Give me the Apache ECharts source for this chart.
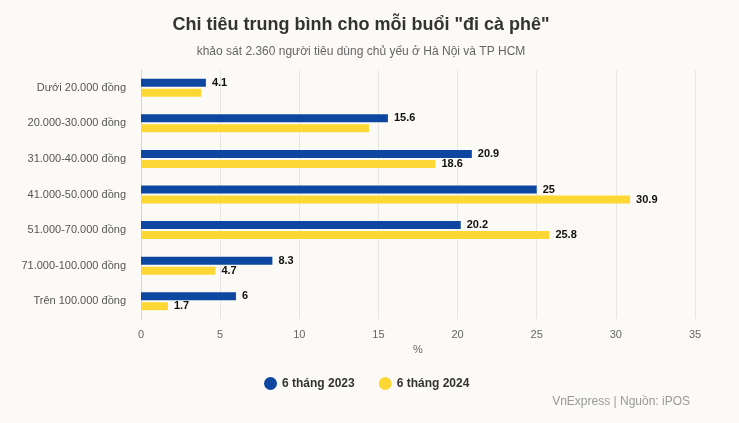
<!DOCTYPE html>
<html><head><meta charset="utf-8">
<script src="https://cdn.jsdelivr.net/npm/echarts@6/dist/echarts.min.js"></script>
<style>html,body{margin:0;padding:0;background:#fbfaf7}#c{width:739px;height:423px}</style>
</head><body><div id="c"></div>
<script>
const categories = ["Dưới 20.000 đồng","20.000-30.000 đồng","31.000-40.000 đồng","41.000-50.000 đồng","51.000-70.000 đồng","71.000-100.000 đồng","Trên 100.000 đồng"];
const values2023 = [4.1, 15.6, 20.9, 25, 20.2, 8.3, 6];
const values2024 = [3.8, 14.4, 18.6, 30.9, 25.8, 4.7, 1.7];
const labelled2024 = [false, false, true, true, true, true, true];
const seriesNames = ["6 tháng 2023", "6 tháng 2024"];
const xTicks = {min: 0, max: 35, interval: 5};

const font = "'Liberation Sans', Arial, sans-serif";
const chart = echarts.init(document.getElementById('c'));
const lbl = {show: true, position: 'right', color: '#111', fontWeight: 'bold', fontSize: 11, fontFamily: font, distance: 6};
chart.setOption({
  backgroundColor: '#fbfaf7',
  animation: false,
  title: [{
    text: 'Chi tiêu trung bình cho mỗi buổi "đi cà phê"',
    left: 356, top: 11, textAlign: 'center',
    textStyle: {fontFamily: font, fontSize: 18, fontWeight: 'bold', color: '#333'}
  }, {
    text: 'khảo sát 2.360 người tiêu dùng chủ yếu ở Hà Nội và TP HCM',
    left: 356, top: 41, textAlign: 'center',
    textStyle: {fontFamily: font, fontSize: 12, fontWeight: 'normal', color: '#666'}
  }, {
    text: 'VnExpress | Nguồn: iPOS',
    right: 44, top: 391,
    textStyle: {fontFamily: font, fontSize: 12, fontWeight: 'normal', color: '#999'}
  }],
  legend: {
    data: seriesNames, left: 259, top: 372, itemGap: 24, icon: 'circle', itemWidth: 13, itemHeight: 13,
    textStyle: {fontFamily: font, fontSize: 12, color: '#333', fontWeight: 'bold'}
  },
  grid: {left: 141, right: 44, top: 70, bottom: 104},
  xAxis: {
    type: 'value', min: xTicks.min, max: xTicks.max, interval: xTicks.interval,
    name: '%', nameLocation: 'middle', nameGap: 24,
    nameTextStyle: {fontFamily: font, fontSize: 11, color: '#666'},
    axisLabel: {fontFamily: font, fontSize: 11, color: '#666', margin: 10},
    splitLine: {lineStyle: {color: '#e6e6e6'}},
    axisLine: {show: false}, axisTick: {show: false}
  },
  yAxis: {
    type: 'category', data: categories, inverse: true,
    axisLine: {lineStyle: {color: '#ccd6eb'}}, axisTick: {show: false},
    axisLabel: {fontFamily: font, fontSize: 11, color: '#555', margin: 15}
  },
  series: [{
    name: seriesNames[0], type: 'bar', data: values2023, barWidth: 8, barGap: '25%',
    itemStyle: {color: '#0d47a1'}, label: lbl
  }, {
    name: seriesNames[1], type: 'bar', data: values2024.map((v, i) => ({value: v, label: {show: labelled2024[i]}})), barWidth: 8,
    itemStyle: {color: '#fdd835'}, label: lbl
  }]
});
</script></body></html>
